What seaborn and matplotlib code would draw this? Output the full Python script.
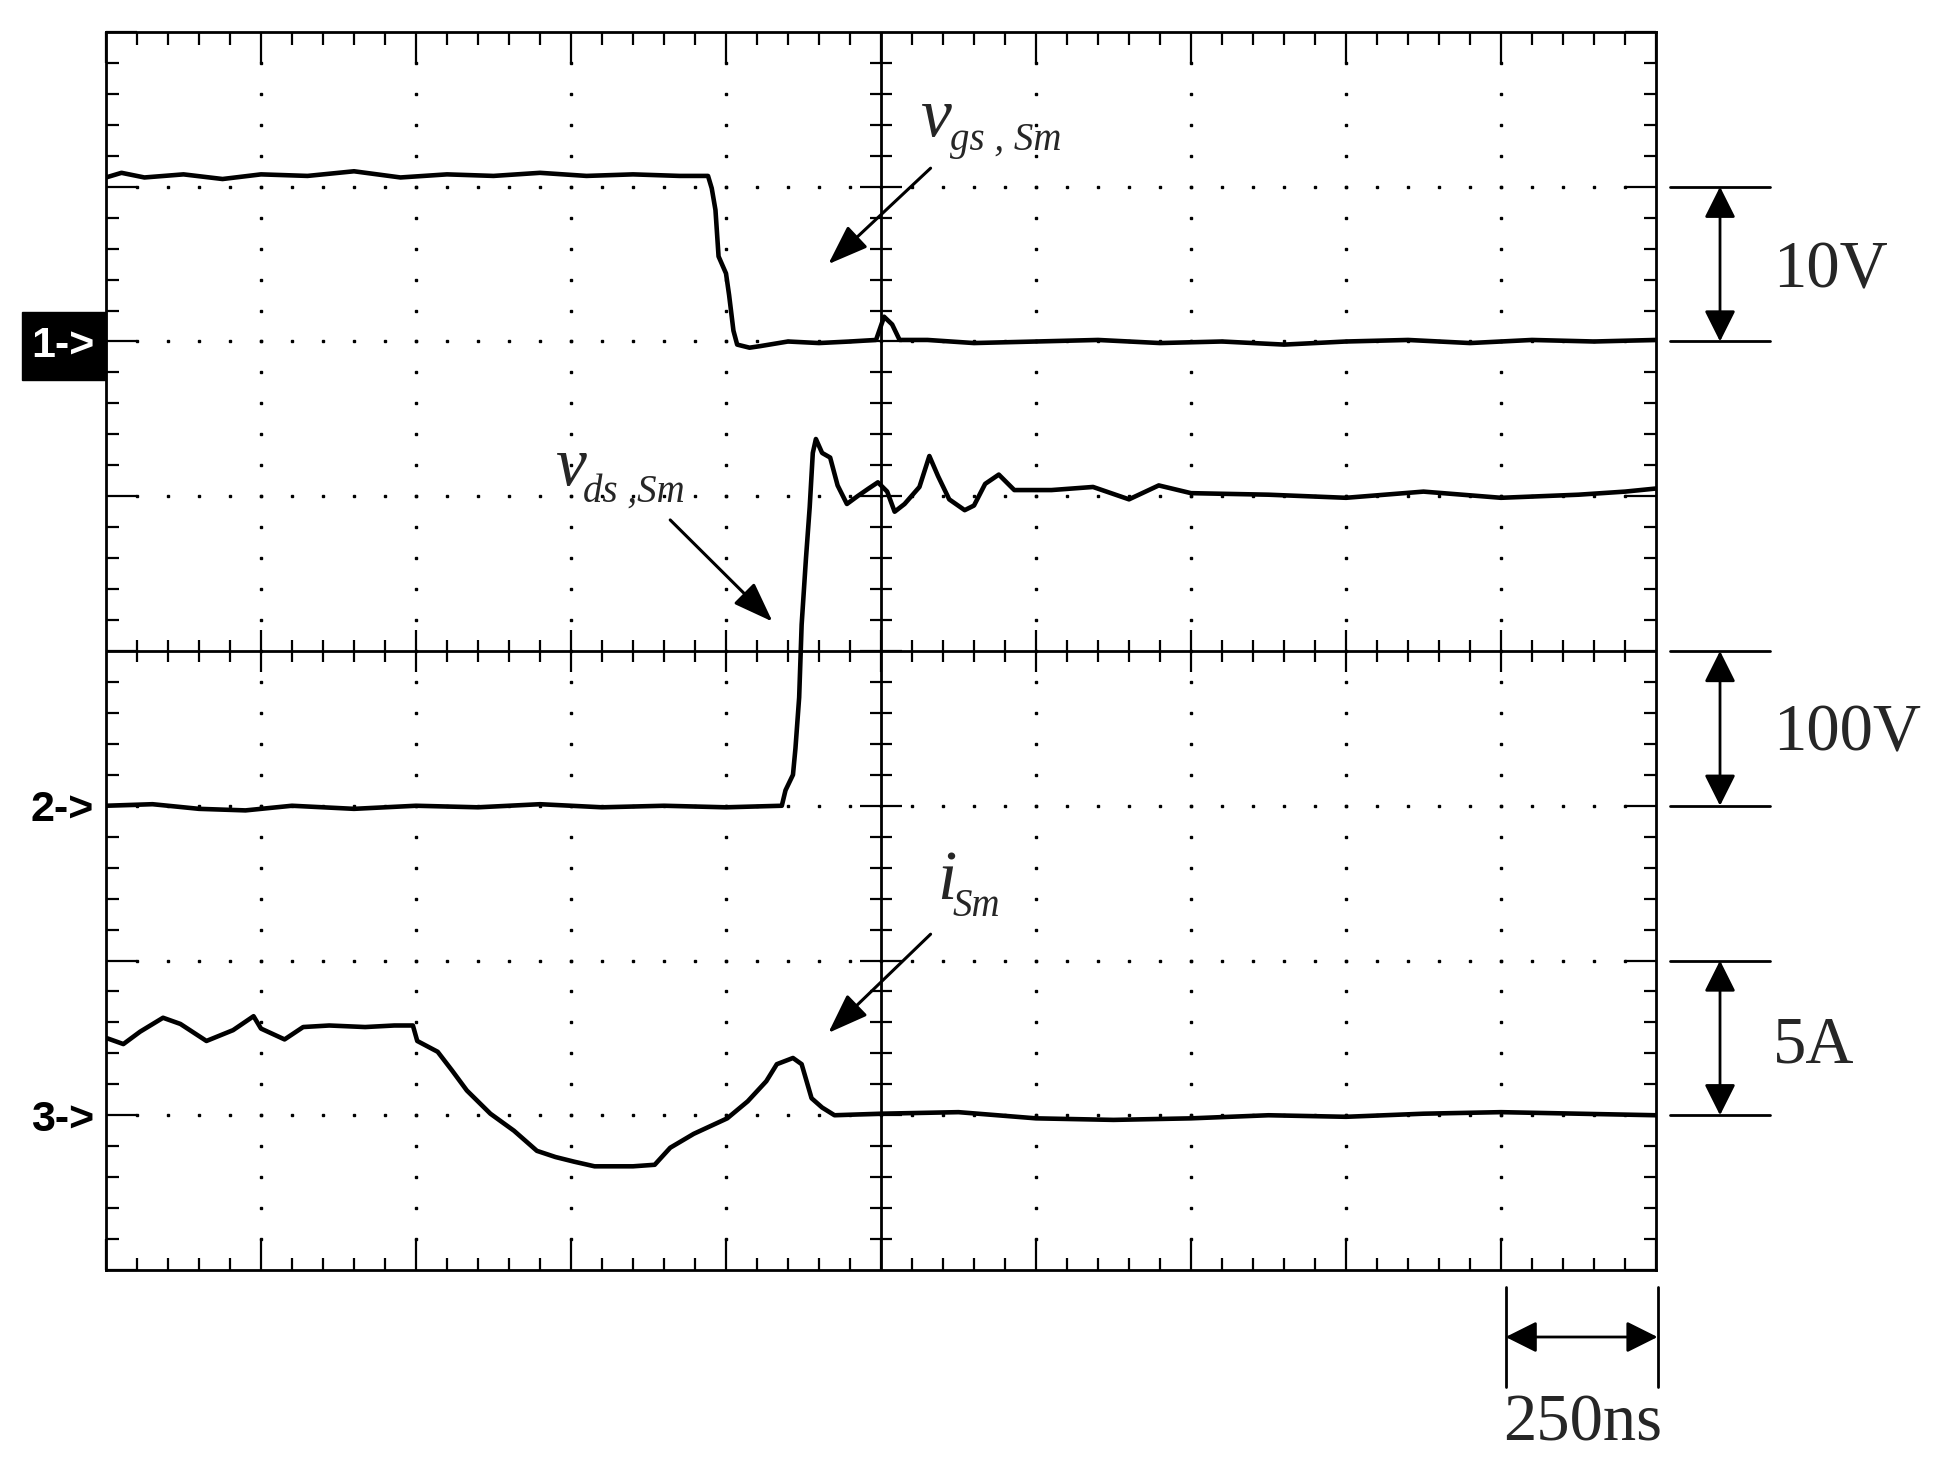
import numpy as np
import matplotlib
matplotlib.use("Agg")
import matplotlib.pyplot as plt
import matplotlib.transforms as mtrans
from matplotlib.patches import Rectangle
from matplotlib.ticker import MultipleLocator
import seaborn as sns

# scope settings
ns_per_div = 250          # time base
ch1_scale, ch1_pos = 10, 6   # V/div, ground marker (div from bottom)
ch2_scale, ch2_pos = 100, 3  # V/div
ch3_scale, ch3_pos = 5, 1    # A/div

# CH1: v_gs,Sm  (ns, V)
t_vgs = [0, 25, 62, 125, 188, 250, 325, 400, 475, 550, 625, 700, 775, 850, 925,
         971, 977, 983, 988, 1000, 1005, 1012, 1018, 1038, 1055, 1100, 1150, 1200,
         1242, 1255, 1268, 1280, 1325, 1400, 1500, 1600, 1700, 1800, 1900, 2000,
         2100, 2200, 2300, 2400, 2500]
vgs = [10.6, 10.9, 10.6, 10.8, 10.5, 10.8, 10.7, 11.0, 10.6, 10.8, 10.7, 10.9, 10.7, 10.8, 10.7,
       10.7, 9.9, 8.5, 5.5, 4.4, 3.0, 0.7, -0.2, -0.4, -0.3, 0.0, -0.1, 0.0,
       0.1, 1.6, 1.1, 0.1, 0.1, -0.1, 0.0, 0.1, -0.1, 0.0, -0.2, 0.0,
       0.1, -0.1, 0.1, 0.0, 0.1]

# CH2: v_ds,Sm  (ns, V)
t_vds = [0, 75, 150, 225, 300, 400, 500, 600, 700, 800, 900, 1000, 1090, 1096, 1108,
         1112, 1118, 1122, 1129, 1135, 1140, 1145, 1155, 1168, 1180, 1195, 1212, 1230,
         1245, 1260, 1272, 1288, 1312, 1328, 1342, 1360, 1385, 1400, 1418, 1440, 1465,
         1525, 1592, 1650, 1698, 1750, 1875, 2000, 2125, 2250, 2375, 2450, 2500]
vds = [0, 1, -2, -3, 0, -2, 0, -1, 1, -1, 0, -1, 0, 10, 20,
       37, 70, 117, 160, 193, 228, 237, 228, 225, 207, 195, 200, 205,
       209, 203, 190, 195, 206, 226, 213, 198, 191, 194, 208, 214, 204,
       204, 206, 198, 207, 202, 201, 199, 203, 199, 201, 203, 205]

# CH3: i_Sm  (ns, A)
t_is = [0, 28, 55, 92, 120, 162, 205, 238, 250, 288, 318, 360, 418, 465, 495, 502,
        535, 558, 582, 620, 658, 695, 725, 755, 788, 850, 885, 910, 948, 1002, 1035,
        1065, 1082, 1108, 1122, 1138, 1155, 1175, 1250, 1375, 1500, 1625, 1750, 1875,
        2000, 2125, 2250, 2375, 2500]
i_s = [2.5, 2.3, 2.7, 3.15, 2.95, 2.4, 2.75, 3.2, 2.8, 2.45, 2.85, 2.9, 2.85, 2.9, 2.9, 2.4,
       2.05, 1.45, 0.8, 0.05, -0.5, -1.15, -1.35, -1.5, -1.65, -1.65, -1.6, -1.05, -0.6, -0.1, 0.45,
       1.1, 1.65, 1.85, 1.65, 0.55, 0.25, 0.0, 0.05, 0.1, -0.1, -0.15, -0.1, 0.0,
       -0.05, 0.05, 0.1, 0.05, 0.0]

sns.set_style("white")
plt.rcParams['font.family'] = ['Liberation Serif', 'DejaVu Serif']

fig = plt.figure(figsize=(19.35, 14.66), dpi=100)
ax = fig.add_axes([106/1935, 196/1466, 1550/1935, 1238/1466])
ax.set_xlim(0, 10)
ax.set_ylim(0, 8)

# graticule
for s in ax.spines.values():
    s.set_linewidth(2)
    s.set_color('black')
ax.xaxis.set_major_locator(MultipleLocator(1))
ax.yaxis.set_major_locator(MultipleLocator(1))
ax.xaxis.set_minor_locator(MultipleLocator(0.2))
ax.yaxis.set_minor_locator(MultipleLocator(0.2))
ax.tick_params(which='both', direction='in', top=True, right=True, bottom=True, left=True,
               labelleft=False, labelbottom=False, color='black')
ax.tick_params(which='major', length=22, width=1.6)
ax.tick_params(which='minor', length=9, width=1.6)

fine = np.round(np.arange(0.2, 10, 0.2), 1)
fine_y = np.round(np.arange(0.2, 8, 0.2), 1)
for gx in [1, 2, 3, 4, 6, 7, 8, 9]:
    ax.plot(np.full(len(fine_y), gx), fine_y, ls='none', marker='s', ms=1.9, color='black')
for gy in [1, 2, 3, 5, 6, 7]:
    ax.plot(fine, np.full(len(fine), gy), ls='none', marker='s', ms=1.9, color='black')

ax.axvline(5, color='black', lw=2)
ax.axhline(4, color='black', lw=2)
minor_x = [v for v in fine if abs(v - round(v)) > 1e-6]
minor_y = [v for v in fine_y if abs(v - round(v)) > 1e-6]
ax.plot(minor_x, np.full(len(minor_x), 4), ls='none', marker='|', ms=16, mew=1.6, color='black')
ax.plot(range(1, 10), np.full(9, 4), ls='none', marker='|', ms=30, mew=1.6, color='black')
ax.plot(np.full(len(minor_y), 5), minor_y, ls='none', marker='_', ms=16, mew=1.6, color='black')
ax.plot(np.full(7, 5), range(1, 8), ls='none', marker='_', ms=30, mew=1.6, color='black')

# traces
traces = [(t_vgs, vgs, ch1_scale, ch1_pos), (t_vds, vds, ch2_scale, ch2_pos),
          (t_is, i_s, ch3_scale, ch3_pos)]
for t, v, sc, pos in traces:
    sns.lineplot(x=np.array(t) / ns_per_div, y=pos + np.array(v) / sc, ax=ax,
                 color='black', lw=3.3, estimator=None, sort=False)

# channel markers
trans = mtrans.blended_transform_factory(ax.transAxes, ax.transData)
ax.add_patch(Rectangle((-0.054, 5.75), 0.054, 0.44, transform=trans, clip_on=False,
                       facecolor='black', edgecolor='black'))
ax.text(-0.028, ch1_pos - 0.1, '1->', transform=trans, ha='center', va='baseline',
        color='white', fontsize=31, weight='bold', family='Liberation Sans')
for lab, pos in [('2->', ch2_pos), ('3->', ch3_pos)]:
    ax.text(-0.028, pos - 0.1, lab, transform=trans, ha='center', va='baseline',
            color='black', fontsize=31, weight='bold', family='Liberation Sans')

# volts/div bars on the right
for top, bot, lab, yb in [(7, 6, '10V', 6.35), (4, 3, '100V', 3.36), (2, 1, '5A', 1.34)]:
    for yy in (top, bot):
        ax.plot([1.009, 1.0735], [yy, yy], transform=trans, clip_on=False, color='black', lw=2)
    ax.annotate('', xy=(1.0413, bot), xytext=(1.0413, top), xycoords=trans, textcoords=trans,
                arrowprops=dict(arrowstyle='<|-|>,head_length=0.4,head_width=0.2',
                                mutation_scale=48, lw=2, color='black', shrinkA=0, shrinkB=0))
    ax.text(1.0755, yb, lab, transform=trans, ha='left', va='baseline', fontsize=48)

# time/div bar
for xx in (9.03, 10.01):
    ax.plot([xx, xx], [-0.11, -0.756], clip_on=False, color='black', lw=2)
ax.annotate('', xy=(10.01, -0.433), xytext=(9.03, -0.433),
            arrowprops=dict(arrowstyle='<|-|>,head_length=0.4,head_width=0.2',
                            mutation_scale=48, lw=2, color='black', shrinkA=0, shrinkB=0),
            annotation_clip=False)
ax.text(9.013, -1.099, '250ns', ha='left', va='baseline', fontsize=48, clip_on=False)

# trace labels
ax.text(5.252, 7.33, 'v', fontsize=50, style='italic', va='baseline')
ax.text(5.445, 7.24, 'gs , Sm', fontsize=28, style='italic', va='baseline')
ax.text(2.897, 5.073, 'v', fontsize=50, style='italic', va='baseline')
ax.text(3.077, 4.963, 'ds ,Sm', fontsize=28, style='italic', va='baseline')
ax.text(5.36, 2.40, 'i', fontsize=50, style='italic', va='baseline')
ax.text(5.46, 2.29, 'Sm', fontsize=28, style='italic', va='baseline')

arrow_kw = dict(arrowstyle='-|>,head_length=0.55,head_width=0.2', mutation_scale=45,
                lw=2.2, color='black', shrinkA=0, shrinkB=0)
ax.annotate('', xy=(4.66, 6.50), xytext=(5.32, 7.12), arrowprops=arrow_kw)
ax.annotate('', xy=(4.30, 4.19), xytext=(3.64, 4.847), arrowprops=arrow_kw)
ax.annotate('', xy=(4.66, 1.532), xytext=(5.32, 2.17), arrowprops=arrow_kw)

ax.set_xlabel('')
ax.set_ylabel('')
fig.savefig('out.png', dpi=100, facecolor='white')
